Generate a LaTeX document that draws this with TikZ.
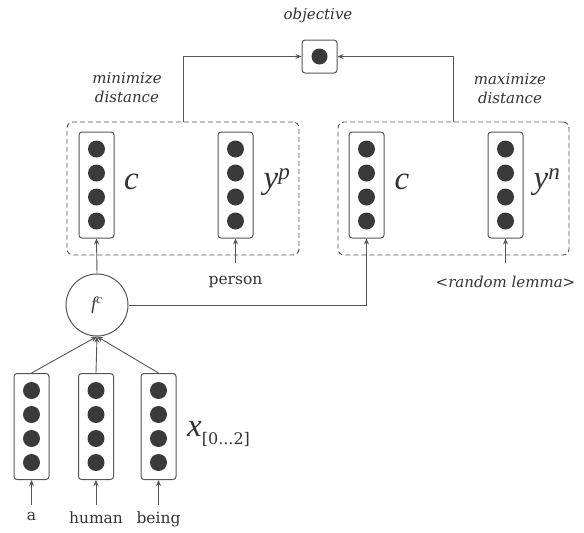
\documentclass[tikz,border=0pt]{standalone}
\usepackage{fontspec}
\setmainfont{DejaVu Serif}
\newfontfamily\symfont{Liberation Serif}
\usetikzlibrary{arrows.meta,calc}
\definecolor{ln}{HTML}{555555}
\definecolor{dotcol}{HTML}{3A3A3A}
\definecolor{txt}{HTML}{333333}
\tikzset{
  vecbox/.style={draw=ln, line width=1pt, rounded corners=3pt, minimum width=35pt, minimum height=106pt, inner sep=0pt},
  dotc/.style={circle, fill=dotcol, minimum size=17pt, inner sep=0pt},
  grp/.style={draw=ln, dash pattern=on 5pt off 3pt, rounded corners=6pt, line width=0.9pt, inner sep=0pt},
  arr/.style={draw=ln, line width=0.9pt, -{Stealth[length=6pt,width=5pt]}},
  lbl/.style={text=txt, font=\fontsize{15}{19}\selectfont\itshape, align=center, inner sep=0pt},
  word/.style={text=txt, font=\fontsize{15.5}{18}\selectfont, inner sep=0pt},
  sym/.style={text=txt, font=\fontsize{33}{34}\selectfont\symfont\itshape, inner sep=0pt},
}
\newcommand\vecat[3]{%
  \node[vecbox] (#1) at (#2,#3) {};
  \foreach \d [count=\i] in {-36,-12,12,36} {\node[dotc] (#1d\i) at ($(#1)+(0,\d)$) {};}
}
\begin{document}
\begin{tikzpicture}[x=1pt,y=-1pt]
\useasboundingbox (0,0) rectangle (584,533);
% objective
\node[draw=ln, line width=1pt, rounded corners=3pt, minimum width=35pt, minimum height=33pt, inner sep=0pt] (obj) at (319.5,56.5) {};
\node[dotc, minimum size=16pt] (objdot) at (obj) {};
\node[lbl] (objl) at (318,15) {objective};
% groups
\node[grp, minimum width=232pt, minimum height=133pt] (lgrp) at (183,188.5) {};
\node[grp, minimum width=231pt, minimum height=133pt] (rgrp) at (453.5,188.5) {};
\node[lbl] (minl) at (127,88) {minimize\\distance};
\node[lbl] (maxl) at (510,89) {maximize\\distance};
% vectors in groups
\vecat{vc1}{96.5}{185}
\vecat{vyp}{235.5}{185}
\vecat{vc2}{366.5}{185}
\vecat{vyn}{505.5}{185}
\node[sym] (lc1) at (131.5,182) {c};
\node[sym] (lyp) at (277,182) {y\textsuperscript{p}};
\node[sym] (lc2) at (402,182) {c};
\node[sym] (lyn) at (547,182) {y\textsuperscript{n}};
% inputs
\node[word, anchor=north] (person) at (235.5,276) {person};
\node[lbl, anchor=north] (rand) at (505.5,276) {<random lemma>};
\coordinate (pstart) at (235.5,263);
\coordinate (rstart) at (505.5,263);
% composition
\node[draw=ln, line width=1pt, circle, minimum size=62pt, inner sep=0pt, text=txt] (fc) at (97,305) {\fontsize{18}{20}\selectfont\symfont\itshape f\textsuperscript{c}};
\vecat{va}{31.5}{426.5}
\vecat{vh}{96}{426.5}
\vecat{vb}{158.5}{426.5}
\node[sym, anchor=west] (lx) at (187,434) {x\raisebox{-8pt}{\fontsize{16}{18}\selectfont\rmfamily\upshape [0...2]}};
\node[word, anchor=north] (wa) at (31.5,512) {a};
\node[word, anchor=north] (wh) at (96,512) {human};
\node[word, anchor=north] (wb) at (158.5,512) {being};
\coordinate (sa) at (31.5,505);
\coordinate (sh) at (96,505);
\coordinate (sb) at (158.5,505);
% connectors
\draw[arr] (sa) -- (va.south);
\draw[arr] (sh) -- (vh.south);
\draw[arr] (sb) -- (vb.south);
\draw[arr] (va.north) -- (fc.south);
\draw[arr] (vh.north) -- (fc.south);
\draw[arr] (vb.north) -- (fc.south);
\draw[arr] (fc.north) -- (vc1.south);
\draw[arr] (fc.east) -| (vc2.south);
\draw[arr] (pstart) -- (vyp.south);
\draw[arr] (rstart) -- (vyn.south);
\draw[arr] (lgrp.north) |- (obj.west);
\draw[arr] (rgrp.north) |- (obj.east);
\end{tikzpicture}
\end{document}
